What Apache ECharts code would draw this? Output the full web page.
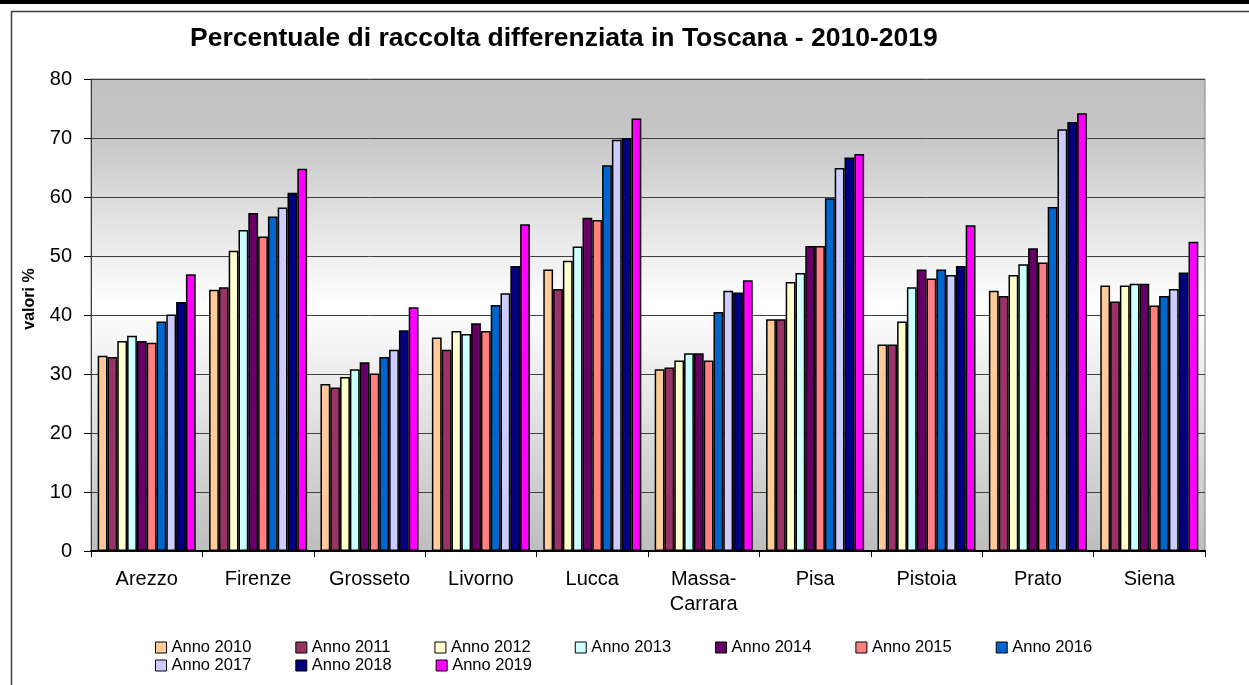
<!DOCTYPE html>
<html>
<head>
<meta charset="utf-8">
<script src="https://cdn.jsdelivr.net/npm/echarts@6/dist/echarts.min.js"></script>
<style>
  html, body { margin: 0; padding: 0; background: #fff; }
  #chart { width: 1249px; height: 685px; }
</style>
</head>
<body>
<div id="chart"></div>
<script>
// province
const categories = ['Arezzo', 'Firenze', 'Grosseto', 'Livorno', 'Lucca', 'Massa-\nCarrara', 'Pisa', 'Pistoia', 'Prato', 'Siena']
const years = ['Anno 2010', 'Anno 2011', 'Anno 2012', 'Anno 2013', 'Anno 2014', 'Anno 2015', 'Anno 2016', 'Anno 2017', 'Anno 2018', 'Anno 2019']

// valori % per anno (ordine come categories)
const anno2010 = [33.1, 44.3, 28.3, 36.2, 47.7, 30.8, 39.3, 35.0, 44.1, 45.0]
const anno2011 = [32.9, 44.7, 27.7, 34.1, 44.4, 31.1, 39.3, 35.0, 43.2, 42.3]
const anno2012 = [35.6, 50.9, 29.5, 37.3, 49.2, 32.3, 45.6, 38.9, 46.8, 45.0]
const anno2013 = [36.5, 54.4, 30.8, 36.8, 51.6, 33.5, 47.1, 44.7, 48.6, 45.3]
const anno2014 = [35.6, 57.3, 32.0, 38.6, 56.5, 33.5, 51.7, 47.7, 51.3, 45.3]
const anno2015 = [35.3, 53.3, 30.1, 37.3, 56.1, 32.3, 51.7, 46.2, 48.9, 41.6]
const anno2016 = [38.9, 56.7, 32.9, 41.7, 65.4, 40.5, 59.8, 47.7, 58.3, 43.2]
const anno2017 = [40.1, 58.2, 34.1, 43.7, 69.7, 44.1, 64.9, 46.8, 71.5, 44.4]
const anno2018 = [42.2, 60.7, 37.4, 48.3, 70.0, 43.8, 66.7, 48.3, 72.7, 47.2]
const anno2019 = [46.9, 64.8, 41.3, 55.4, 73.3, 45.9, 67.3, 55.2, 74.2, 52.4]

const yTicks = [0, 10, 20, 30, 40, 50, 60, 70, 80]

const values = [anno2010, anno2011, anno2012, anno2013, anno2014, anno2015, anno2016, anno2017, anno2018, anno2019]
const colors = ['#FFCC99', '#993366', '#FFFFCC', '#CCFFFF', '#660066', '#FF8080', '#0066CC', '#CCCCFF', '#000080', '#FF00FF']

const font = 'Liberation Sans, Arial, sans-serif'

const chart = echarts.init(document.getElementById('chart'))

const legendBase = {
  orient: 'horizontal',
  itemWidth: 11,
  itemHeight: 11,
  itemGap: 44,
  icon: 'rect',
  textStyle: { fontFamily: font, fontSize: 16.5, color: '#000', padding: [0, 0, 0, 0] },
  itemStyle: { borderColor: '#000', borderWidth: 1 },
  padding: 0
}

chart.setOption({
  animation: false,
  color: colors,
  title: {
    text: 'Percentuale di raccolta differenziata in Toscana - 2010-2019',
    left: 190,
    top: 25,
    padding: 0,
    textStyle: { fontFamily: font, fontSize: 26.5, fontWeight: 'bold', color: '#000' }
  },
  legend: [
    Object.assign({}, legendBase, { left: 155, top: 639, data: years.slice(0, 7) }),
    Object.assign({}, legendBase, { left: 155, top: 657, data: years.slice(7) })
  ],
  grid: {
    left: 91,
    right: 44,
    top: 79,
    bottom: 134,
    show: true,
    borderColor: '#808080',
    borderWidth: 1,
    backgroundColor: new echarts.graphic.LinearGradient(0, 0, 0, 1, [
      { offset: 0, color: '#c0c0c0' },
      { offset: 0.12, color: '#c6c6c6' },
      { offset: 0.48, color: '#ffffff' },
      { offset: 1, color: '#bdbdbd' }
    ])
  },
  xAxis: {
    type: 'category',
    data: categories,
    axisLine: { lineStyle: { color: '#000', width: 2 } },
    axisTick: { show: true, length: 6, lineStyle: { color: '#000' } },
    axisLabel: { fontFamily: font, fontSize: 20, color: '#000', margin: 16, lineHeight: 25 }
  },
  yAxis: {
    type: 'value',
    min: 0,
    max: 80,
    interval: 10,
    name: 'valori %',
    nameLocation: 'middle',
    nameGap: 53,
    nameTextStyle: { fontFamily: font, fontSize: 16, fontWeight: 'bold', color: '#000', padding: [0, 0, 0, 32] },
    axisLine: { show: true, lineStyle: { color: '#404040', width: 1 } },
    axisTick: { show: true, length: 7, lineStyle: { color: '#000' } },
    axisLabel: {
      fontFamily: font, fontSize: 20, color: '#000', margin: 19,
      formatter: v => (yTicks.indexOf(v) >= 0 ? String(v) : '')
    },
    splitLine: { show: true, lineStyle: { color: '#404040', width: 1 } }
  },
  series: values.map((d, i) => ({
    name: years[i],
    type: 'bar',
    data: d,
    barGap: '0%',
    barCategoryGap: '12%',
    itemStyle: { borderColor: '#000', borderWidth: 1.5 }
  })),
  graphic: [
    { type: 'rect', shape: { x: 0, y: 0, width: 1249, height: 4 }, style: { fill: '#000' } },
    { type: 'line', shape: { x1: 11, y1: 11.5, x2: 1249, y2: 11.5 }, style: { stroke: '#404040', lineWidth: 1.5 } },
    { type: 'line', shape: { x1: 11.5, y1: 11, x2: 11.5, y2: 685 }, style: { stroke: '#404040', lineWidth: 1.5 } }
  ]
})
</script>
</body>
</html>
